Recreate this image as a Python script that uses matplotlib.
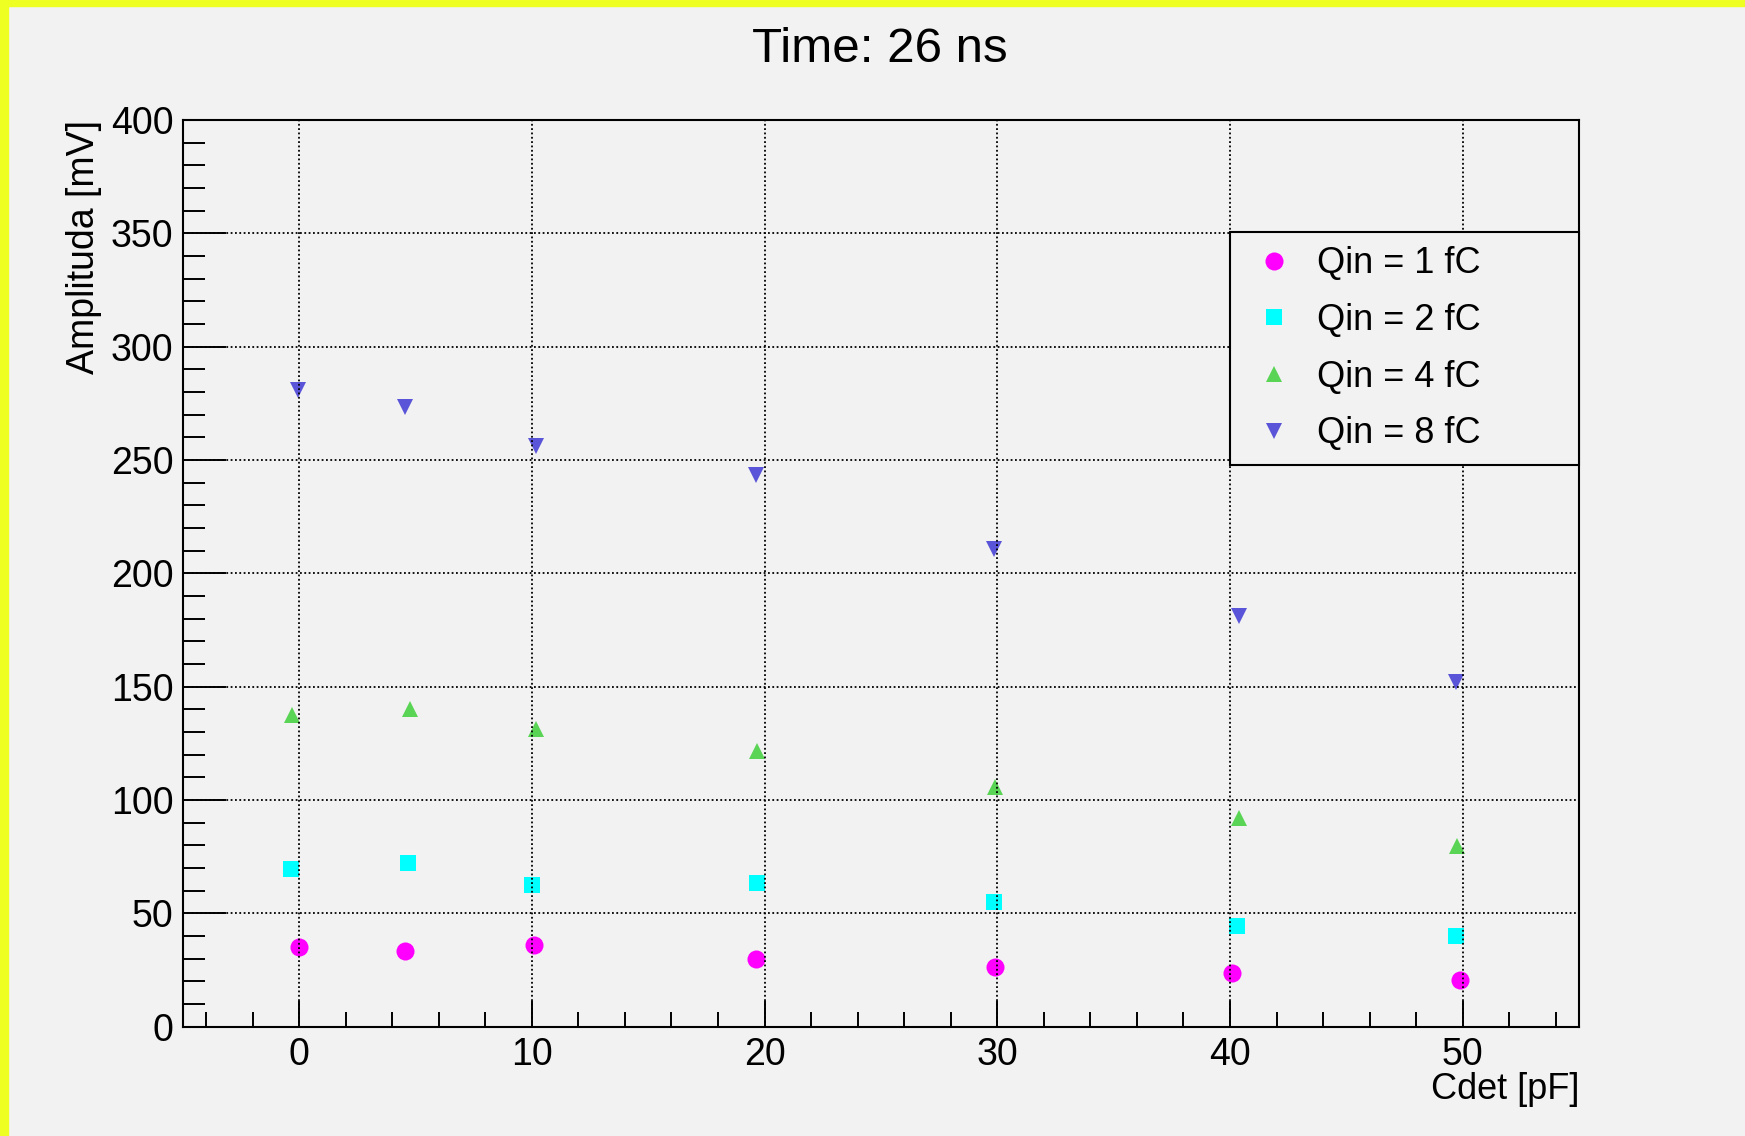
import matplotlib
matplotlib.use("Agg")
import matplotlib.pyplot as plt
from matplotlib.patches import Rectangle
from matplotlib.ticker import MultipleLocator

plt.rcParams['font.family'] = ['Liberation Sans', 'DejaVu Sans']

# Cdet [pF] and amplitude [mV] for each injected charge
cdet_1fC = [0.0, 4.57, 10.08, 19.65, 29.9, 40.1, 49.9]
amp_1fC = [35.0, 33.3, 36.1, 29.9, 26.5, 23.7, 20.5]
cdet_2fC = [-0.33, 4.70, 9.99, 19.68, 29.85, 40.32, 49.7]
amp_2fC = [69.4, 72.2, 62.5, 63.4, 54.9, 44.4, 39.9]
cdet_4fC = [-0.30, 4.75, 10.19, 19.67, 29.9, 40.37, 49.74]
amp_4fC = [137.4, 140.1, 131.3, 121.5, 105.7, 92.0, 79.6]
cdet_8fC = [-0.05, 4.56, 10.16, 19.62, 29.85, 40.37, 49.72]
amp_8fC = [280.9, 273.6, 256.3, 243.3, 210.7, 181.0, 152.1]

labels = ["Qin = 1 fC", "Qin = 2 fC", "Qin = 4 fC", "Qin = 8 fC"]
title = "Time: 26 ns"

bg = "#f2f2f2"
fig = plt.figure(figsize=(17.45, 11.36), dpi=100, facecolor=bg)
ax = fig.add_axes([0.1047, 0.0962, 0.8002, 0.7981], facecolor=bg)

ax.plot(cdet_1fC, amp_1fC, "o", color="#ff00ff", ms=13, mew=0, label=labels[0])
ax.plot(cdet_2fC, amp_2fC, "s", color="#00ffff", ms=11.5, mew=0, label=labels[1])
ax.plot(cdet_4fC, amp_4fC, "^", color="#59d454", ms=11, mew=0, label=labels[2])
ax.plot(cdet_8fC, amp_8fC, "v", color="#5954d8", ms=11, mew=0, label=labels[3])

ax.set_xlim(-5, 55)
ax.set_ylim(0, 400)
ax.xaxis.set_major_locator(MultipleLocator(10))
ax.xaxis.set_minor_locator(MultipleLocator(2))
ax.yaxis.set_major_locator(MultipleLocator(50))
ax.yaxis.set_minor_locator(MultipleLocator(10))

ax.tick_params(axis="both", which="both", direction="in", colors="black", width=1.4,
               labelsize=27, top=False, right=False)
ax.tick_params(axis="x", which="major", length=19, pad=7.4)
ax.tick_params(axis="x", which="minor", length=10.8)
ax.tick_params(axis="y", which="major", length=31, pad=6.8)
ax.tick_params(axis="y", which="minor", length=15.5)
for s in ax.spines.values():
    s.set_linewidth(1.5)

ax.grid(True, which="major", color="black", linestyle=(0, (1, 1.4)), linewidth=1.3)
ax.set_axisbelow(False)

ax.set_xlabel("Cdet [pF]", fontsize=26, loc="right")
ax.xaxis.set_label_coords(1.0, -0.050)
ax.set_ylabel("Amplituda [mV]", fontsize=27, loc="top")
ax.yaxis.set_label_coords(-0.058, 1.0)

leg = ax.legend(loc="upper left", bbox_to_anchor=(0.75, 0.627, 0.25, 0.249), mode="expand",
                fontsize=26, frameon=True, fancybox=False, shadow=False, framealpha=1,
                facecolor=bg, edgecolor="black", borderpad=0.38, labelspacing=0.6,
                handlelength=1.7, handletextpad=0.32, borderaxespad=0)
leg.get_frame().set_linewidth(1.5)

fig.text(0.5043, 1 - 61.7 / 1136, title, fontsize=35.5, ha="center", va="baseline")

# yellow canvas edge on the left and top
fig.add_artist(Rectangle((0, 0), 8 / 1745, 1, transform=fig.transFigure, color="#eeff22", zorder=10))
fig.add_artist(Rectangle((0, 1 - 6 / 1136), 1, 6 / 1136, transform=fig.transFigure, color="#eeff22", zorder=10))

fig.savefig("out.png", dpi=100, facecolor=bg)
